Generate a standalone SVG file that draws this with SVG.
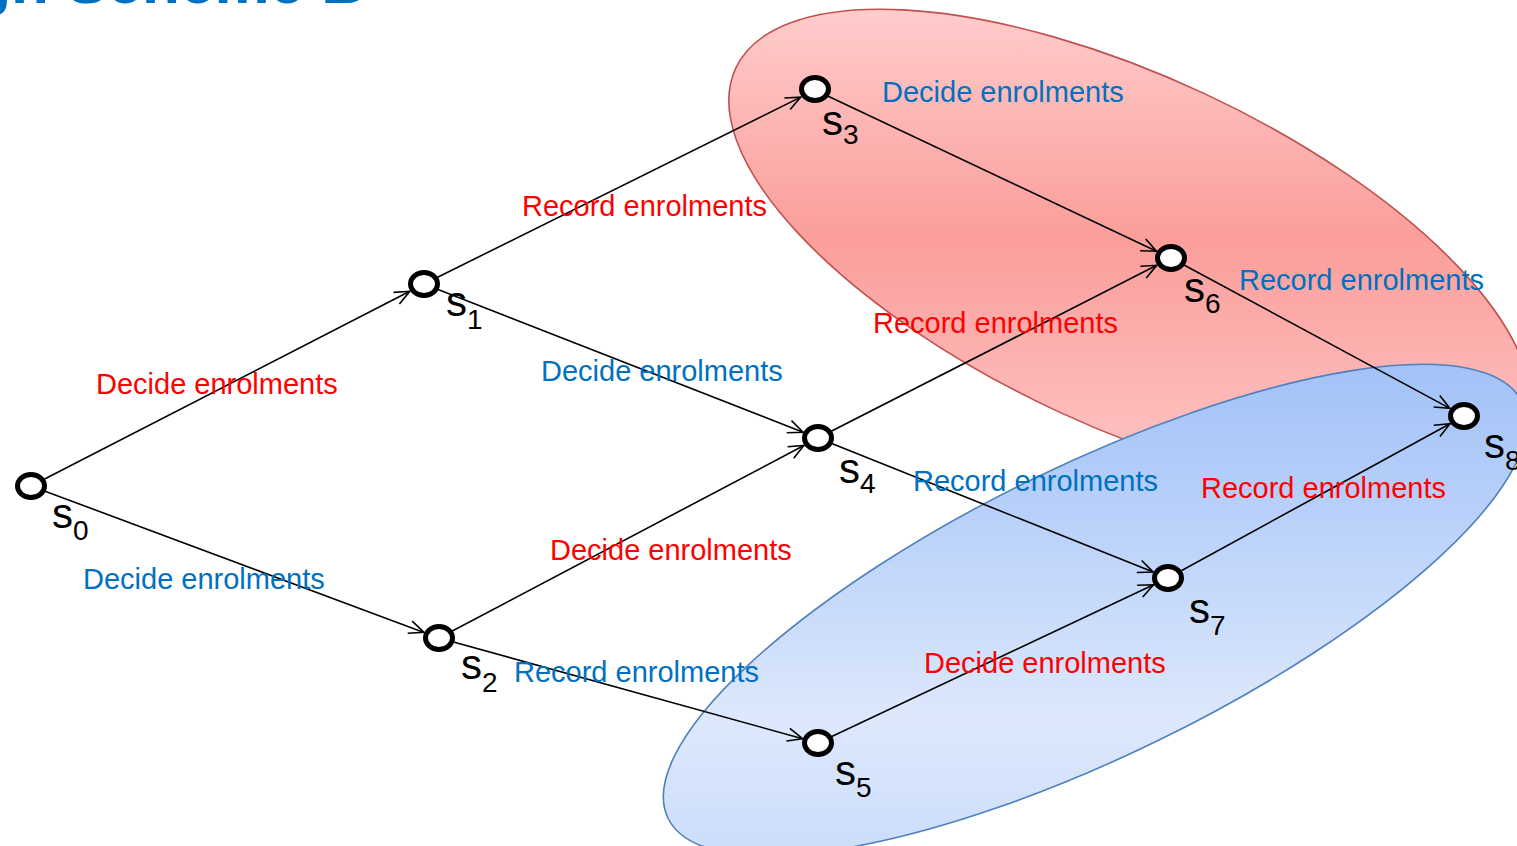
<svg xmlns="http://www.w3.org/2000/svg" width="1517" height="846" viewBox="0 0 1517 846">
  <defs>
    <!-- red region: light edges, darker band through the middle -->
    <linearGradient id="gradRed" gradientUnits="userSpaceOnUse" x1="1027.3" y1="31.8" x2="1232.7" y2="472.2">
      <stop offset="0" stop-color="#FFCCCC"/>
      <stop offset="0.47" stop-color="#FA9E9B"/>
      <stop offset="1" stop-color="#FFC8C8"/>
    </linearGradient>
    <!-- blue region: darker at the top, lighter further down -->
    <linearGradient id="gradBlue" gradientUnits="userSpaceOnUse" x1="1202.4" y1="389.8" x2="987.6" y2="830.2">
      <stop offset="0" stop-color="#A3C2F7"/>
      <stop offset="0.35" stop-color="#BCD3FA"/>
      <stop offset="0.72" stop-color="#DDE8FC"/>
      <stop offset="1" stop-color="#CCDDFA"/>
    </linearGradient>
    <marker id="arrow" markerUnits="userSpaceOnUse" viewBox="-16 -8 18 16" markerWidth="18" markerHeight="16" refX="0" refY="0" orient="auto" overflow="visible">
      <path d="M-15,-6.5 L0,0 L-15,6.5" fill="none" stroke="#000" stroke-width="1.6" stroke-linejoin="miter"/>
    </marker>
    <style>
      .title { font-family: "Liberation Sans", Arial, sans-serif; font-weight: bold; font-size: 62px; fill: #0070C0; }
      .edge { stroke: #000; stroke-width: 1.6; fill: none; marker-end: url(#arrow); }
      .lbl { font-family: "Liberation Sans", Arial, sans-serif; font-size: 29px; }
      .red { fill: #FF0000; }
      .blue { fill: #0070C0; }
      .state { fill: #FFFFFF; stroke: #000; stroke-width: 5; }
      .name { font-family: "Liberation Sans", Arial, sans-serif; font-size: 42px; fill: #000; }
      .sub { font-size: 28px; }
    </style>
  </defs>

  <rect x="0" y="0" width="1517" height="846" fill="#FFFFFF"/>

  <!-- slide title, mostly above the visible area -->
  <text class="title" x="366" y="3" text-anchor="end">Design Scheme B</text>

  <!-- highlighted regions -->
  <g id="regions">
    <ellipse id="region-red" cx="1130" cy="252" rx="435" ry="175" transform="rotate(25 1130 252)" fill="url(#gradRed)" stroke="#C0504D" stroke-width="1.6"/>
    <ellipse id="region-blue" cx="1095" cy="610" rx="475" ry="145" transform="rotate(-26 1095 610)" fill="url(#gradBlue)" stroke="#4F81BD" stroke-width="1.6"/>
  </g>

  <!-- transitions -->
  <g id="connectors">
    <g id="e-s0-s1">
      <line class="edge" x1="31" y1="486" x2="409.8" y2="291.3"/>
      <text class="lbl red" x="96" y="394">Decide enrolments</text>
    </g>
    <g id="e-s0-s2">
      <line class="edge" x1="31" y1="486" x2="424" y2="632.4"/>
      <text class="lbl blue" x="83" y="589">Decide enrolments</text>
    </g>
    <g id="e-s1-s3">
      <line class="edge" x1="424" y1="284" x2="800.7" y2="97.1"/>
      <text class="lbl red" x="522" y="216">Record enrolments</text>
    </g>
    <g id="e-s1-s4">
      <line class="edge" x1="424" y1="284" x2="803.1" y2="432.2"/>
      <text class="lbl blue" x="541" y="381">Decide enrolments</text>
    </g>
    <g id="e-s2-s4">
      <line class="edge" x1="439" y1="638" x2="803.9" y2="445.5"/>
      <text class="lbl red" x="550" y="560">Decide enrolments</text>
    </g>
    <g id="e-s2-s5">
      <line class="edge" x1="439" y1="638" x2="802.6" y2="738.7"/>
      <text class="lbl blue" x="514" y="682">Record enrolments</text>
    </g>
    <g id="e-s3-s6">
      <line class="edge" x1="815" y1="90" x2="1156.5" y2="251.2"/>
      <text class="lbl blue" x="882" y="102">Decide enrolments</text>
    </g>
    <g id="e-s4-s6">
      <line class="edge" x1="818" y1="438" x2="1156.7" y2="265.3"/>
      <text class="lbl red" x="873" y="333">Record enrolments</text>
    </g>
    <g id="e-s4-s7">
      <line class="edge" x1="818" y1="438" x2="1153.2" y2="572.1"/>
      <text class="lbl blue" x="913" y="491">Record enrolments</text>
    </g>
    <g id="e-s5-s7">
      <line class="edge" x1="818" y1="743" x2="1153.5" y2="584.8"/>
      <text class="lbl red" x="924" y="673">Decide enrolments</text>
    </g>
    <g id="e-s6-s8">
      <line class="edge" x1="1171" y1="258" x2="1449.9" y2="408.4"/>
      <text class="lbl blue" x="1239" y="290">Record enrolments</text>
    </g>
    <g id="e-s7-s8">
      <line class="edge" x1="1168" y1="578" x2="1450" y2="423.7"/>
      <text class="lbl red" x="1201" y="498">Record enrolments</text>
    </g>
  </g>

  <!-- states -->
  <g id="s0">
    <ellipse class="state" cx="31" cy="486" rx="13.5" ry="11.5"/>
    <text class="name" x="52" y="528">s<tspan class="sub" dy="12">0</tspan></text>
  </g>
  <g id="s1">
    <ellipse class="state" cx="424" cy="284" rx="13.5" ry="11.5"/>
    <text class="name" x="446" y="316">s<tspan class="sub" dy="13">1</tspan></text>
  </g>
  <g id="s2">
    <ellipse class="state" cx="439" cy="638" rx="13.5" ry="11.5"/>
    <text class="name" x="461" y="679">s<tspan class="sub" dy="13">2</tspan></text>
  </g>
  <g id="s3">
    <ellipse class="state" cx="815" cy="89" rx="13.5" ry="11.5"/>
    <text class="name" x="822" y="135">s<tspan class="sub" dy="9">3</tspan></text>
  </g>
  <g id="s4">
    <ellipse class="state" cx="818" cy="438" rx="13.5" ry="11.5"/>
    <text class="name" x="839" y="483">s<tspan class="sub" dy="10">4</tspan></text>
  </g>
  <g id="s5">
    <ellipse class="state" cx="818" cy="743" rx="13.5" ry="11.5"/>
    <text class="name" x="835" y="785">s<tspan class="sub" dy="12">5</tspan></text>
  </g>
  <g id="s6">
    <ellipse class="state" cx="1171" cy="258" rx="13.5" ry="11.5"/>
    <text class="name" x="1184" y="302">s<tspan class="sub" dy="11">6</tspan></text>
  </g>
  <g id="s7">
    <ellipse class="state" cx="1168" cy="578" rx="13.5" ry="11.5"/>
    <text class="name" x="1189" y="623">s<tspan class="sub" dy="12">7</tspan></text>
  </g>
  <g id="s8">
    <ellipse class="state" cx="1464" cy="416" rx="13.5" ry="11.5"/>
    <text class="name" x="1484" y="458">s<tspan class="sub" dy="12">8</tspan></text>
  </g>
</svg>
